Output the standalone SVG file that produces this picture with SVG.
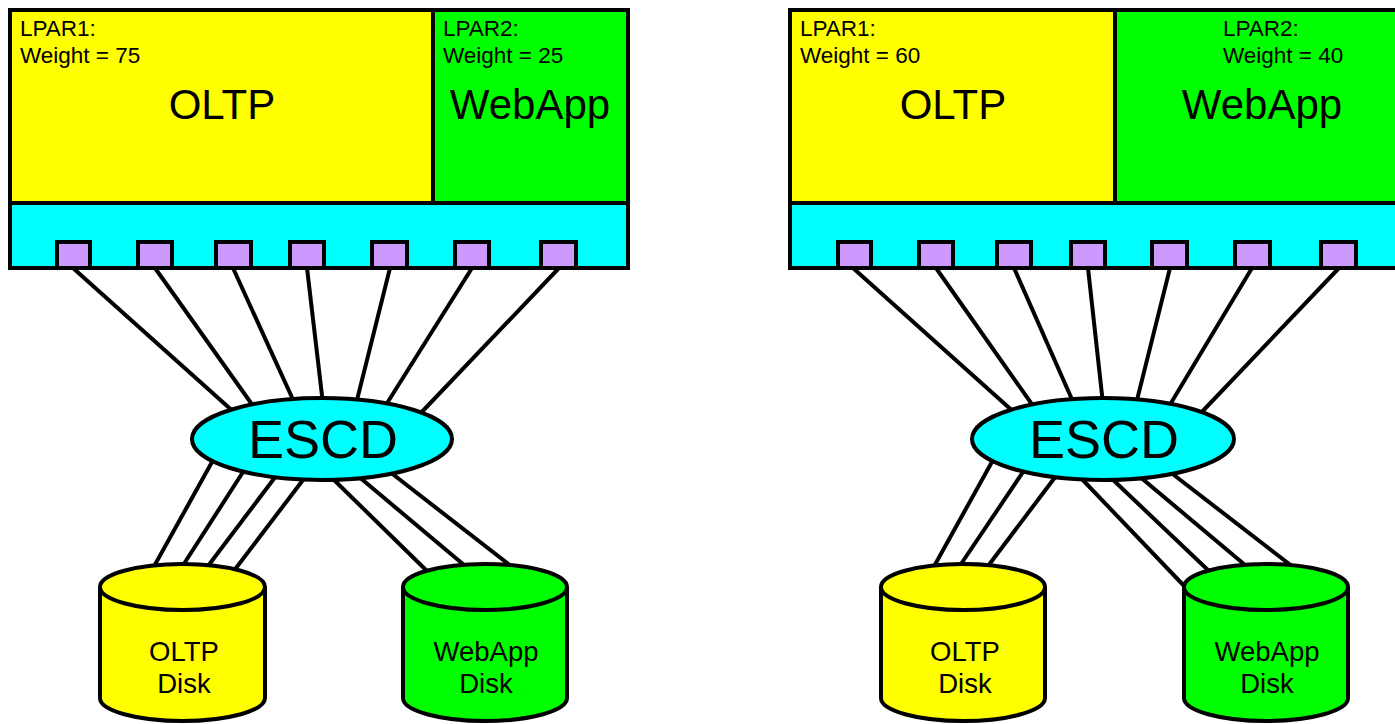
<svg xmlns="http://www.w3.org/2000/svg" width="1395" height="724" viewBox="0 0 1395 724">
<style>
.k{stroke:#000;stroke-width:4;}
.y{fill:#ffff00;}
.g{fill:#00ff00;}
.c{fill:#00ffff;}
.p{fill:#cc99ff;}
.t{font-family:"Liberation Sans",Arial,sans-serif;fill:#000;}
.s{font-size:22.5px;}
.b{font-size:42px;text-anchor:middle;}
.e{font-size:54px;text-anchor:middle;}
.d{font-size:27.5px;text-anchor:middle;}
#links line{stroke:#000;stroke-width:4;}
</style>
<rect width="1395" height="724" fill="#fff"/>
<g id="links">
<line x1="73" y1="268" x2="236" y2="414"/>
<line x1="155" y1="268" x2="256" y2="410"/>
<line x1="233" y1="268" x2="295" y2="404"/>
<line x1="307" y1="268" x2="323" y2="404"/>
<line x1="390" y1="268" x2="356" y2="404"/>
<line x1="472" y1="268" x2="384" y2="408"/>
<line x1="559" y1="268" x2="418" y2="416"/>
<line x1="212" y1="462" x2="152" y2="570"/>
<line x1="243" y1="472" x2="180" y2="570"/>
<line x1="276" y1="476" x2="205" y2="570"/>
<line x1="306" y1="476" x2="233" y2="572"/>
<line x1="330" y1="476" x2="428" y2="572"/>
<line x1="358" y1="476" x2="470" y2="570"/>
<line x1="390" y1="472" x2="516" y2="570"/>
<line x1="853" y1="268" x2="1016" y2="414"/>
<line x1="936" y1="268" x2="1036" y2="410"/>
<line x1="1014" y1="268" x2="1074" y2="404"/>
<line x1="1088" y1="268" x2="1103" y2="404"/>
<line x1="1170" y1="268" x2="1136" y2="404"/>
<line x1="1252" y1="268" x2="1168" y2="408"/>
<line x1="1339" y1="268" x2="1198" y2="416"/>
<line x1="993" y1="460" x2="932" y2="570"/>
<line x1="1023" y1="472" x2="957" y2="570"/>
<line x1="1056" y1="476" x2="985" y2="570"/>
<line x1="1079" y1="476" x2="1188" y2="590"/>
<line x1="1109" y1="476" x2="1210" y2="572"/>
<line x1="1139" y1="476" x2="1251" y2="570"/>
<line x1="1170" y1="472" x2="1297" y2="570"/>
</g>
<g id="left-lpar1">
<rect class="y k" x="10" y="10" width="423" height="193"/>
<text class="t s" x="20" y="36">LPAR1:</text>
<text class="t s" x="20" y="63">Weight = 75</text>
<text class="t b" x="222" y="119">OLTP</text>
</g>
<g id="left-lpar2">
<rect class="g k" x="433" y="10" width="195" height="193"/>
<text class="t s" x="443" y="36">LPAR2:</text>
<text class="t s" x="443" y="63">Weight = 25</text>
<text class="t b" x="530" y="119">WebApp</text>
</g>
<g id="left-channels">
<rect class="c k" x="10" y="203" width="618" height="65"/>
<rect class="p k" x="57" y="242" width="33" height="26"/>
<rect class="p k" x="138" y="242" width="34" height="26"/>
<rect class="p k" x="216" y="242" width="35" height="26"/>
<rect class="p k" x="290" y="242" width="34" height="26"/>
<rect class="p k" x="372" y="242" width="35" height="26"/>
<rect class="p k" x="455" y="242" width="34" height="26"/>
<rect class="p k" x="541" y="242" width="35" height="26"/>
</g>
<g id="left-escd">
<ellipse class="c k" cx="322" cy="439" rx="130" ry="41"/>
<text class="t e" x="323" y="458">ESCD</text>
</g>
<g id="left-oltp-disk">
<path class="y k" d="M100,587 L100,698 A82.5,23 0 0 0 265,698 L265,587"/>
<ellipse class="y k" cx="182.5" cy="587" rx="82.5" ry="23"/>
<text class="t d" x="184" y="661">OLTP</text>
<text class="t d" x="184" y="693">Disk</text>
</g>
<g id="left-webapp-disk">
<path class="g k" d="M403,587 L403,698 A82,23 0 0 0 567,698 L567,587"/>
<ellipse class="g k" cx="485" cy="587" rx="82" ry="23"/>
<text class="t d" x="486" y="661">WebApp</text>
<text class="t d" x="486" y="693">Disk</text>
</g>
<g id="right-lpar1">
<rect class="y k" x="790" y="10" width="325" height="193"/>
<text class="t s" x="800" y="36">LPAR1:</text>
<text class="t s" x="800" y="63">Weight = 60</text>
<text class="t b" x="953" y="119">OLTP</text>
</g>
<g id="right-lpar2">
<rect class="g k" x="1115" y="10" width="284" height="193"/>
<text class="t s" x="1223" y="36">LPAR2:</text>
<text class="t s" x="1223" y="63">Weight = 40</text>
<text class="t b" x="1262" y="119">WebApp</text>
</g>
<g id="right-channels">
<rect class="c k" x="790" y="203" width="609" height="65"/>
<rect class="p k" x="838" y="242" width="33" height="26"/>
<rect class="p k" x="919" y="242" width="34" height="26"/>
<rect class="p k" x="997" y="242" width="34" height="26"/>
<rect class="p k" x="1071" y="242" width="34" height="26"/>
<rect class="p k" x="1152" y="242" width="35" height="26"/>
<rect class="p k" x="1235" y="242" width="35" height="26"/>
<rect class="p k" x="1321" y="242" width="35" height="26"/>
</g>
<g id="right-escd">
<ellipse class="c k" cx="1103" cy="439" rx="131" ry="41"/>
<text class="t e" x="1104" y="458">ESCD</text>
</g>
<g id="right-oltp-disk">
<path class="y k" d="M881,587 L881,698 A82,23 0 0 0 1045,698 L1045,587"/>
<ellipse class="y k" cx="963" cy="587" rx="82" ry="23"/>
<text class="t d" x="965" y="661">OLTP</text>
<text class="t d" x="965" y="693">Disk</text>
</g>
<g id="right-webapp-disk">
<path class="g k" d="M1184,587 L1184,698 A82,23 0 0 0 1348,698 L1348,587"/>
<ellipse class="g k" cx="1266" cy="587" rx="82" ry="23"/>
<text class="t d" x="1267" y="661">WebApp</text>
<text class="t d" x="1267" y="693">Disk</text>
</g>
</svg>
